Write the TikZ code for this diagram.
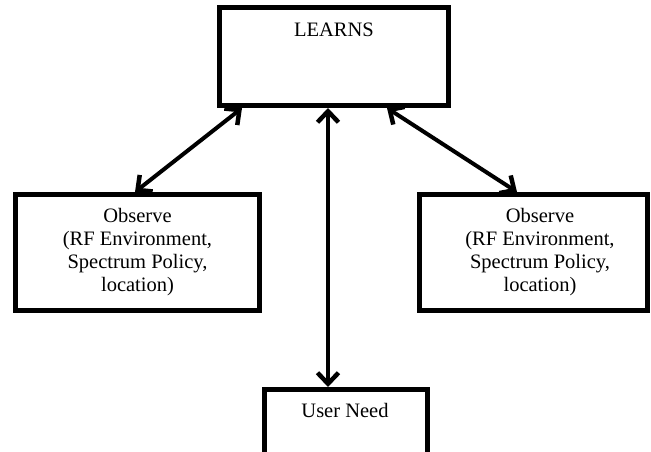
\documentclass[tikz,border=0pt]{standalone}
\usepackage{fontspec}
\setmainfont{Liberation Serif}
\usetikzlibrary{arrows.meta}
\begin{document}
\begin{tikzpicture}[x=1pt,y=-1pt,
  box/.style={draw=black,line width=5pt,fill=white,rectangle,inner sep=0pt},
  lbl/.style={align=center,font=\fontsize{20.5pt}{23pt}\selectfont,inner sep=0pt},
  barb/.tip={Straight Barb[length=11pt,width=21pt,line width=4.5pt]},
  arr/.style={line width=4pt,barb-barb}]
\clip (0,0) rectangle (651,452);
\fill[white] (0,0) rectangle (651,452);
% boxes
\node[box,minimum width=229pt,minimum height=98pt] (learns) at (334,56.5) {};
\node[box,minimum width=244pt,minimum height=116pt] (obsL) at (137.5,252.5) {};
\node[box,minimum width=228pt,minimum height=116pt] (obsR) at (533.5,252.5) {};
\node[box,minimum width=163pt,minimum height=100pt] (need) at (346,439.5) {};
% labels
\node[lbl] (tLearns) at (334,30) {LEARNS};
\node[lbl] (tObsL) at (137.5,252) {Observe\\(RF Environment,\\Spectrum Policy,\\location)};
\node[lbl] (tObsR) at (540,252) {Observe\\(RF Environment,\\Spectrum Policy,\\location)};
\node[lbl] (tNeed) at (345,410) {User Need};
% connectors
\draw[arr] ([xshift=25pt]learns.south west) -- ([xshift=-2.5pt]obsL.north);
\draw[arr] ([xshift=-64pt]learns.south east) -- ([xshift=-16.5pt]obsR.north);
\draw[arr] ([xshift=-6pt]learns.south) -- ([xshift=-18pt]need.north);
\end{tikzpicture}
\end{document}
